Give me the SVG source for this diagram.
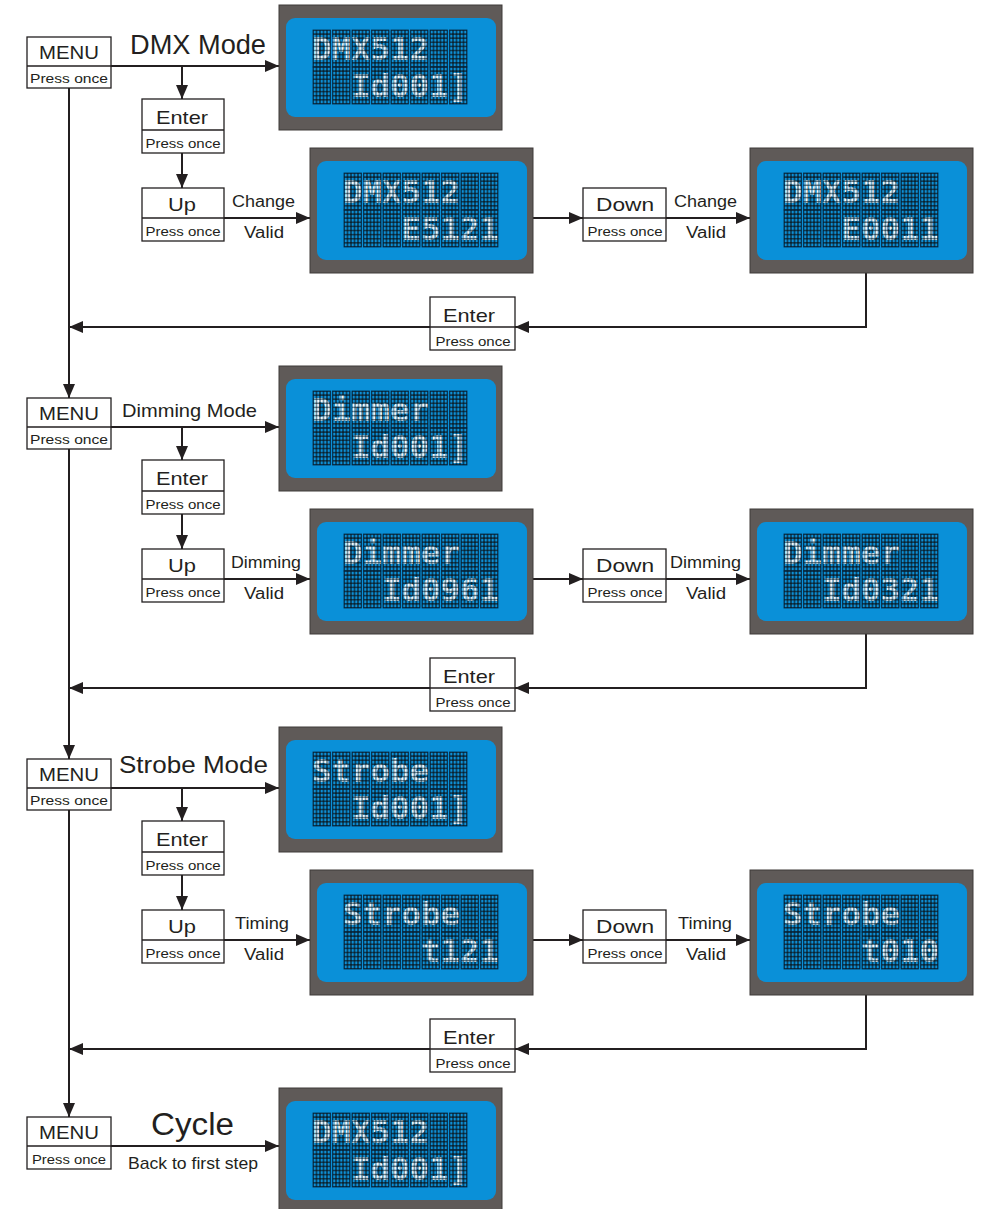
<svg xmlns="http://www.w3.org/2000/svg" xmlns:xlink="http://www.w3.org/1999/xlink" width="982" height="1209" viewBox="0 0 982 1209">
<style>
.box{fill:#fff;stroke:#231f20;stroke-width:1.3}
.ln{stroke:#231f20;stroke-width:2;fill:none}
.t{font-family:"Liberation Sans",Arial,sans-serif;fill:#231f20}
.big{font-size:19px}
.sm{font-size:13px}
.lab{font-size:16px}
.lcdt{font-family:"DejaVu Sans Mono","Liberation Mono",monospace;font-weight:bold;font-size:32px;fill:url(#lit)}
</style>
<defs>
<marker id="ah" markerUnits="userSpaceOnUse" markerWidth="14" markerHeight="12" refX="14" refY="6" orient="auto">
<path d="M0,0 L14,6 L0,12 z" fill="#231f20"/>
</marker>
<pattern id="dots" patternUnits="userSpaceOnUse" width="3.5" height="4.1">
<rect width="3.5" height="4.1" fill="#0a0a0a"/>
<rect x="0.5" y="0.5" width="2.5" height="3.1" fill="#0d8fd6"/>
</pattern>
<pattern id="lit" patternUnits="userSpaceOnUse" x="34" y="25" width="3.5" height="4.1">
<rect x="0.5" y="0.5" width="2.5" height="3.1" fill="#f6f6f6"/>
</pattern>
<g id="cell"><rect width="17.5" height="37" fill="url(#dots)" stroke="#062a44" stroke-width="0.8"/></g>
<g id="lcd">
<rect width="223" height="125" fill="#5f5a58" stroke="#3f3a38" stroke-width="1"/>
<rect x="7" y="13" width="210" height="99" rx="9" fill="#0a90d8"/>
<use href="#cell" x="34" y="25"/><use href="#cell" x="53.5" y="25"/><use href="#cell" x="73" y="25"/><use href="#cell" x="92.5" y="25"/>
<use href="#cell" x="112" y="25"/><use href="#cell" x="131.5" y="25"/><use href="#cell" x="151" y="25"/><use href="#cell" x="170.5" y="25"/>
<use href="#cell" x="34" y="62"/><use href="#cell" x="53.5" y="62"/><use href="#cell" x="73" y="62"/><use href="#cell" x="92.5" y="62"/>
<use href="#cell" x="112" y="62"/><use href="#cell" x="131.5" y="62"/><use href="#cell" x="151" y="62"/><use href="#cell" x="170.5" y="62"/>
</g>
</defs>
<rect width="982" height="1209" fill="#fff"/>

<g id="connectors">
<!-- section 1 -->
<path class="ln" d="M111,66 H279" marker-end="url(#ah)"/>
<path class="ln" d="M182,66 V99" marker-end="url(#ah)"/>
<path class="ln" d="M182,153 V188" marker-end="url(#ah)"/>
<path class="ln" d="M224,218 H310" marker-end="url(#ah)"/>
<path class="ln" d="M533,218 H583" marker-end="url(#ah)"/>
<path class="ln" d="M666,218 H750" marker-end="url(#ah)"/>
<path class="ln" d="M866,273 V327 H515" marker-end="url(#ah)"/>
<path class="ln" d="M430,327 H69" marker-end="url(#ah)"/>
<path class="ln" d="M69,88 V398" marker-end="url(#ah)"/>
<!-- section 2 -->
<path class="ln" d="M111,427 H279" marker-end="url(#ah)"/>
<path class="ln" d="M182,427 V460" marker-end="url(#ah)"/>
<path class="ln" d="M182,514 V549" marker-end="url(#ah)"/>
<path class="ln" d="M224,579 H310" marker-end="url(#ah)"/>
<path class="ln" d="M533,579 H583" marker-end="url(#ah)"/>
<path class="ln" d="M666,579 H750" marker-end="url(#ah)"/>
<path class="ln" d="M866,634 V688 H515" marker-end="url(#ah)"/>
<path class="ln" d="M430,688 H69" marker-end="url(#ah)"/>
<path class="ln" d="M69,449 V759" marker-end="url(#ah)"/>
<!-- section 3 -->
<path class="ln" d="M111,788 H279" marker-end="url(#ah)"/>
<path class="ln" d="M182,788 V821" marker-end="url(#ah)"/>
<path class="ln" d="M182,875 V910" marker-end="url(#ah)"/>
<path class="ln" d="M224,940 H310" marker-end="url(#ah)"/>
<path class="ln" d="M533,940 H583" marker-end="url(#ah)"/>
<path class="ln" d="M666,940 H750" marker-end="url(#ah)"/>
<path class="ln" d="M866,995 V1049 H515" marker-end="url(#ah)"/>
<path class="ln" d="M430,1049 H69" marker-end="url(#ah)"/>
<path class="ln" d="M69,810 V1117" marker-end="url(#ah)"/>
<!-- section 4 -->
<path class="ln" d="M111,1146 H279" marker-end="url(#ah)"/>
</g>

<!-- ===== Section 1 ===== -->
<g id="menu1"><rect class="box" x="27" y="37" width="84" height="51"/><line class="ln" x1="27" y1="66" x2="111" y2="66" style="stroke-width:1.3"/>
<text class="t big" x="69" y="59" text-anchor="middle" textLength="60" lengthAdjust="spacingAndGlyphs">MENU</text>
<text class="t sm" x="69" y="83" text-anchor="middle" textLength="78" lengthAdjust="spacingAndGlyphs">Press once</text></g>
<text id="lbl-dmx" class="t" x="130" y="54" style="font-size:27px" textLength="136" lengthAdjust="spacingAndGlyphs">DMX Mode</text>
<g id="enter1"><rect class="box" x="142" y="99" width="82" height="54"/><line class="ln" x1="142" y1="130" x2="224" y2="130" style="stroke-width:1.3"/>
<text class="t big" x="182" y="124" text-anchor="middle" textLength="52" lengthAdjust="spacingAndGlyphs">Enter</text>
<text class="t sm" x="183" y="148" text-anchor="middle" textLength="75" lengthAdjust="spacingAndGlyphs">Press once</text></g>
<g id="up1"><rect class="box" x="142" y="188" width="82" height="53"/><line class="ln" x1="142" y1="218" x2="224" y2="218" style="stroke-width:1.3"/>
<text class="t big" x="182" y="211" text-anchor="middle" textLength="28" lengthAdjust="spacingAndGlyphs">Up</text>
<text class="t sm" x="183" y="236" text-anchor="middle" textLength="75" lengthAdjust="spacingAndGlyphs">Press once</text></g>
<text class="t lab" x="232" y="207" textLength="63" lengthAdjust="spacingAndGlyphs">Change</text>
<text class="t lab" x="244" y="238" textLength="40" lengthAdjust="spacingAndGlyphs">Valid</text>
<g id="down1"><rect class="box" x="583" y="188" width="83" height="53"/><line class="ln" x1="583" y1="218" x2="666" y2="218" style="stroke-width:1.3"/>
<text class="t big" x="625" y="211" text-anchor="middle" textLength="58" lengthAdjust="spacingAndGlyphs">Down</text>
<text class="t sm" x="625" y="236" text-anchor="middle" textLength="75" lengthAdjust="spacingAndGlyphs">Press once</text></g>
<text class="t lab" x="674" y="207" textLength="63" lengthAdjust="spacingAndGlyphs">Change</text>
<text class="t lab" x="686" y="238" textLength="40" lengthAdjust="spacingAndGlyphs">Valid</text>
<g id="ret1"><rect class="box" x="430" y="297" width="85" height="53"/><line class="ln" x1="430" y1="327" x2="515" y2="327" style="stroke-width:1.3"/>
<text class="t big" x="469" y="322" text-anchor="middle" textLength="52" lengthAdjust="spacingAndGlyphs">Enter</text>
<text class="t sm" x="473" y="346" text-anchor="middle" textLength="75" lengthAdjust="spacingAndGlyphs">Press once</text></g>
<g id="lcd1a" transform="translate(279,5)"><use href="#lcd"/>
<text class="lcdt" x="42.75 62.25 81.75 101.25 120.75 140.25" y="55" text-anchor="middle">DMX512</text>
<text class="lcdt" x="81.75 101.25 120.75 140.25 159.75 179.25" y="92" text-anchor="middle">Id001]</text></g>
<g id="lcd1b" transform="translate(310,148)"><use href="#lcd"/>
<text class="lcdt" x="42.75 62.25 81.75 101.25 120.75 140.25" y="55" text-anchor="middle">DMX512</text>
<text class="lcdt" x="101.25 120.75 140.25 159.75 179.25" y="92" text-anchor="middle">E5121</text></g>
<g id="lcd1c" transform="translate(750,148)"><use href="#lcd"/>
<text class="lcdt" x="42.75 62.25 81.75 101.25 120.75 140.25" y="55" text-anchor="middle">DMX512</text>
<text class="lcdt" x="101.25 120.75 140.25 159.75 179.25" y="92" text-anchor="middle">E0011</text></g>

<!-- ===== Section 2 ===== -->
<g id="menu2"><rect class="box" x="27" y="398" width="84" height="51"/><line class="ln" x1="27" y1="427" x2="111" y2="427" style="stroke-width:1.3"/>
<text class="t big" x="69" y="420" text-anchor="middle" textLength="60" lengthAdjust="spacingAndGlyphs">MENU</text>
<text class="t sm" x="69" y="444" text-anchor="middle" textLength="78" lengthAdjust="spacingAndGlyphs">Press once</text></g>
<text id="lbl-dim" class="t" x="122" y="417" style="font-size:19px" textLength="135" lengthAdjust="spacingAndGlyphs">Dimming Mode</text>
<g id="enter2"><rect class="box" x="142" y="460" width="82" height="54"/><line class="ln" x1="142" y1="491" x2="224" y2="491" style="stroke-width:1.3"/>
<text class="t big" x="182" y="485" text-anchor="middle" textLength="52" lengthAdjust="spacingAndGlyphs">Enter</text>
<text class="t sm" x="183" y="509" text-anchor="middle" textLength="75" lengthAdjust="spacingAndGlyphs">Press once</text></g>
<g id="up2"><rect class="box" x="142" y="549" width="82" height="53"/><line class="ln" x1="142" y1="579" x2="224" y2="579" style="stroke-width:1.3"/>
<text class="t big" x="182" y="572" text-anchor="middle" textLength="28" lengthAdjust="spacingAndGlyphs">Up</text>
<text class="t sm" x="183" y="597" text-anchor="middle" textLength="75" lengthAdjust="spacingAndGlyphs">Press once</text></g>
<text class="t lab" x="231" y="568" textLength="70" lengthAdjust="spacingAndGlyphs">Dimming</text>
<text class="t lab" x="244" y="599" textLength="40" lengthAdjust="spacingAndGlyphs">Valid</text>
<g id="down2"><rect class="box" x="583" y="549" width="83" height="53"/><line class="ln" x1="583" y1="579" x2="666" y2="579" style="stroke-width:1.3"/>
<text class="t big" x="625" y="572" text-anchor="middle" textLength="58" lengthAdjust="spacingAndGlyphs">Down</text>
<text class="t sm" x="625" y="597" text-anchor="middle" textLength="75" lengthAdjust="spacingAndGlyphs">Press once</text></g>
<text class="t lab" x="670" y="568" textLength="71" lengthAdjust="spacingAndGlyphs">Dimming</text>
<text class="t lab" x="686" y="599" textLength="40" lengthAdjust="spacingAndGlyphs">Valid</text>
<g id="ret2"><rect class="box" x="430" y="658" width="85" height="53"/><line class="ln" x1="430" y1="688" x2="515" y2="688" style="stroke-width:1.3"/>
<text class="t big" x="469" y="683" text-anchor="middle" textLength="52" lengthAdjust="spacingAndGlyphs">Enter</text>
<text class="t sm" x="473" y="707" text-anchor="middle" textLength="75" lengthAdjust="spacingAndGlyphs">Press once</text></g>
<g id="lcd2a" transform="translate(279,366)"><use href="#lcd"/>
<text class="lcdt" x="42.75 62.25 81.75 101.25 120.75 140.25" y="55" text-anchor="middle">Dimmer</text>
<text class="lcdt" x="81.75 101.25 120.75 140.25 159.75 179.25" y="92" text-anchor="middle">Id001]</text></g>
<g id="lcd2b" transform="translate(310,509)"><use href="#lcd"/>
<text class="lcdt" x="42.75 62.25 81.75 101.25 120.75 140.25" y="55" text-anchor="middle">Dimmer</text>
<text class="lcdt" x="81.75 101.25 120.75 140.25 159.75 179.25" y="92" text-anchor="middle">Id0961</text></g>
<g id="lcd2c" transform="translate(750,509)"><use href="#lcd"/>
<text class="lcdt" x="42.75 62.25 81.75 101.25 120.75 140.25" y="55" text-anchor="middle">Dimmer</text>
<text class="lcdt" x="81.75 101.25 120.75 140.25 159.75 179.25" y="92" text-anchor="middle">Id0321</text></g>

<!-- ===== Section 3 ===== -->
<g id="menu3"><rect class="box" x="27" y="759" width="84" height="51"/><line class="ln" x1="27" y1="788" x2="111" y2="788" style="stroke-width:1.3"/>
<text class="t big" x="69" y="781" text-anchor="middle" textLength="60" lengthAdjust="spacingAndGlyphs">MENU</text>
<text class="t sm" x="69" y="805" text-anchor="middle" textLength="78" lengthAdjust="spacingAndGlyphs">Press once</text></g>
<text id="lbl-strobe" class="t" x="119" y="773" style="font-size:24px" textLength="149" lengthAdjust="spacingAndGlyphs">Strobe Mode</text>
<g id="enter3"><rect class="box" x="142" y="821" width="82" height="54"/><line class="ln" x1="142" y1="852" x2="224" y2="852" style="stroke-width:1.3"/>
<text class="t big" x="182" y="846" text-anchor="middle" textLength="52" lengthAdjust="spacingAndGlyphs">Enter</text>
<text class="t sm" x="183" y="870" text-anchor="middle" textLength="75" lengthAdjust="spacingAndGlyphs">Press once</text></g>
<g id="up3"><rect class="box" x="142" y="910" width="82" height="53"/><line class="ln" x1="142" y1="940" x2="224" y2="940" style="stroke-width:1.3"/>
<text class="t big" x="182" y="933" text-anchor="middle" textLength="28" lengthAdjust="spacingAndGlyphs">Up</text>
<text class="t sm" x="183" y="958" text-anchor="middle" textLength="75" lengthAdjust="spacingAndGlyphs">Press once</text></g>
<text class="t lab" x="235" y="929" textLength="54" lengthAdjust="spacingAndGlyphs">Timing</text>
<text class="t lab" x="244" y="960" textLength="40" lengthAdjust="spacingAndGlyphs">Valid</text>
<g id="down3"><rect class="box" x="583" y="910" width="83" height="53"/><line class="ln" x1="583" y1="940" x2="666" y2="940" style="stroke-width:1.3"/>
<text class="t big" x="625" y="933" text-anchor="middle" textLength="58" lengthAdjust="spacingAndGlyphs">Down</text>
<text class="t sm" x="625" y="958" text-anchor="middle" textLength="75" lengthAdjust="spacingAndGlyphs">Press once</text></g>
<text class="t lab" x="678" y="929" textLength="54" lengthAdjust="spacingAndGlyphs">Timing</text>
<text class="t lab" x="686" y="960" textLength="40" lengthAdjust="spacingAndGlyphs">Valid</text>
<g id="ret3"><rect class="box" x="430" y="1019" width="85" height="53"/><line class="ln" x1="430" y1="1049" x2="515" y2="1049" style="stroke-width:1.3"/>
<text class="t big" x="469" y="1044" text-anchor="middle" textLength="52" lengthAdjust="spacingAndGlyphs">Enter</text>
<text class="t sm" x="473" y="1068" text-anchor="middle" textLength="75" lengthAdjust="spacingAndGlyphs">Press once</text></g>
<g id="lcd3a" transform="translate(279,727)"><use href="#lcd"/>
<text class="lcdt" x="42.75 62.25 81.75 101.25 120.75 140.25" y="55" text-anchor="middle">Strobe</text>
<text class="lcdt" x="81.75 101.25 120.75 140.25 159.75 179.25" y="92" text-anchor="middle">Id001]</text></g>
<g id="lcd3b" transform="translate(310,870)"><use href="#lcd"/>
<text class="lcdt" x="42.75 62.25 81.75 101.25 120.75 140.25" y="55" text-anchor="middle">Strobe</text>
<text class="lcdt" x="120.75 140.25 159.75 179.25" y="92" text-anchor="middle">t121</text></g>
<g id="lcd3c" transform="translate(750,870)"><use href="#lcd"/>
<text class="lcdt" x="42.75 62.25 81.75 101.25 120.75 140.25" y="55" text-anchor="middle">Strobe</text>
<text class="lcdt" x="120.75 140.25 159.75 179.25" y="92" text-anchor="middle">t010</text></g>

<!-- ===== Section 4 ===== -->
<g id="menu4"><rect class="box" x="27" y="1117" width="84" height="52"/><line class="ln" x1="27" y1="1146" x2="111" y2="1146" style="stroke-width:1.3"/>
<text class="t big" x="69" y="1139" text-anchor="middle" textLength="60" lengthAdjust="spacingAndGlyphs">MENU</text>
<text class="t sm" x="69" y="1164" text-anchor="middle" textLength="74" lengthAdjust="spacingAndGlyphs">Press once</text></g>
<text id="lbl-cycle" class="t" x="151" y="1135" style="font-size:31px" textLength="83" lengthAdjust="spacingAndGlyphs">Cycle</text>
<text id="lbl-back" class="t" x="128" y="1169" style="font-size:17px" textLength="130" lengthAdjust="spacingAndGlyphs">Back to first step</text>
<g id="lcd4" transform="translate(279,1088)"><use href="#lcd"/>
<text class="lcdt" x="42.75 62.25 81.75 101.25 120.75 140.25" y="55" text-anchor="middle">DMX512</text>
<text class="lcdt" x="81.75 101.25 120.75 140.25 159.75 179.25" y="92" text-anchor="middle">Id001]</text></g>
</svg>
